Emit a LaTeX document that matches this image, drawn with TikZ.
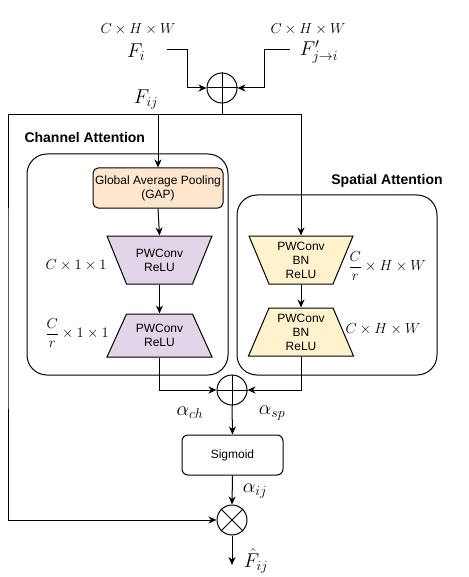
\RequirePackage{fix-cm}
\documentclass[tikz,border=0pt]{standalone}
\usepackage{amsmath}
\usepackage{fontspec}
\setmainfont{Liberation Sans}
\usetikzlibrary{calc,arrows.meta}
\definecolor{gapfill}{HTML}{FFE6CC}
\definecolor{pwfill}{HTML}{E1D5E7}
\definecolor{spfill}{HTML}{FFF2CC}
\newcommand{\mytrap}[5]{%
  \draw[#5] ($(#1)+(-#2,-#4)$) -- ($(#1)+(#2,-#4)$) -- ($(#1)+(#3,#4)$) -- ($(#1)+(-#3,#4)$) -- cycle;}
\begin{document}
\begin{tikzpicture}[x=1pt,y=-1pt,line width=1pt,
  >={Stealth[length=8pt,width=7pt,inset=2.5pt]},
  arr/.style={->},
  lbl/.style={inner sep=0pt,font=\fontsize{14.5}{16}\selectfont},
  biglbl/.style={inner sep=0pt,font=\fontsize{20}{22}\selectfont},
  boxtxt/.style={font=\fontsize{12}{14}\selectfont,align=center,inner sep=0pt},
  title/.style={inner sep=0pt,font=\fontsize{14}{16}\selectfont\bfseries},
  opnode/.style={circle,draw,minimum size=30pt,inner sep=0pt},
  group/.style={draw,rounded corners=20pt,inner sep=0pt}]
\useasboundingbox (0,0) rectangle (468,577);
\fill[white] (0,0) rectangle (468,577);

% group boxes
\node[group,minimum width=201pt,minimum height=221pt] (chbox) at (127.5,264.5) {};
\node[group,minimum width=200pt,minimum height=180pt] (spbox) at (337,285) {};
\node[title,anchor=west] (chtitle) at (24,137) {Channel Attention};
\node[title] (sptitle) at (387,181) {Spatial Attention};

% inputs
\node[lbl] (dimi) at (138,29) {$C\times H\times W$};
\node[biglbl] (fi) at (136,52) {$F_i$};
\node[lbl] (dimj) at (308,29) {$C\times H\times W$};
\node[biglbl] (fj) at (319,52) {$F'_{j\to i}$};
\coordinate (a1) at (167,50);
\coordinate (a2) at (290,50);
\node[opnode] (sum1) at (222,88) {};
\draw (sum1.north) -- (sum1.south) (sum1.west) -- (sum1.east);
\draw[arr] (a1) -- ++(20,0) |- (sum1.west);
\draw[arr] (a2) -- ++(-26,0) |- (sum1.east);
\node[biglbl] (fij) at (146,100) {$F_{ij}$};
\coordinate (j) at (222,115);
\coordinate (lc) at (8,300);

% channel branch
\node[draw,fill=gapfill,rounded corners=5pt,minimum width=130pt,minimum height=40pt,boxtxt] (gap) at (158,188) {Global Average Pooling\\(GAP)};
\coordinate (c1) at (159.5,260);
\mytrap{c1}{52.5}{33}{24}{fill=pwfill}
\node[boxtxt,minimum width=105pt,minimum height=48pt] (pw1) at (c1) {PWConv\\ReLU};
\coordinate (c2) at (159.5,335.5);
\mytrap{c2}{33}{52.5}{21.5}{fill=pwfill}
\node[boxtxt,minimum width=105pt,minimum height=43pt] (pw2) at (c2) {PWConv\\ReLU};
\node[lbl] (d1) at (76,265) {$C\times 1\times 1$};
\node[lbl] (d2) at (77,333) {$\dfrac{C}{r}\times 1\times 1$};

% spatial branch
\coordinate (s1) at (301,260);
\mytrap{s1}{52}{32}{24}{fill=spfill}
\node[boxtxt,minimum width=104pt,minimum height=48pt] (sp1) at (s1) {PWConv\\BN\\ReLU};
\coordinate (s2) at (301,332);
\mytrap{s2}{32}{52.5}{24}{fill=spfill}
\node[boxtxt,minimum width=105pt,minimum height=48pt] (sp2) at (s2) {PWConv\\BN\\ReLU};
\node[lbl] (d3) at (387,266) {$\dfrac{C}{r}\times H\times W$};
\node[lbl] (d4) at (383,329) {$C\times H\times W$};

% fusion
\node[opnode] (sum2) at (232,390) {};
\draw (sum2.north) -- (sum2.south) (sum2.west) -- (sum2.east);
\node[draw,rounded corners=6pt,minimum width=101pt,minimum height=40pt,boxtxt] (sig) at (232.5,455) {Sigmoid};
\node[opnode] (mul) at (232,520) {};
\draw (mul.45) -- (mul.225) (mul.135) -- (mul.-45);
\coordinate (out) at (232,565);
\node[biglbl] (ach) at (190,413) {$\alpha_{ch}$};
\node[biglbl] (asp) at (272,413) {$\alpha_{sp}$};
\node[biglbl] (aij) at (255,491) {$\alpha_{ij}$};
\node[biglbl] (fhat) at (256,561) {$\hat{F}_{ij}$};

% connectors
\draw (sum1.south) -- (j);
\draw[arr] (j) -| (gap.north);
\draw[arr] (j) -| (sp1.north);
\draw[arr] (j) -| (lc) |- (mul.west);
\draw[arr] (gap.south) -- (pw1.north);
\draw[arr] (pw1.south) -- (pw2.north);
\draw[arr] (sp1.south) -- (sp2.north);
\draw[arr] (pw2.south) |- (sum2.west);
\draw[arr] (sp2.south) |- (sum2.east);
\draw[arr] (sum2.south) -- (sig.north);
\draw[arr] (sig.south) -- (mul.north);
\draw[arr] (mul.south) -- (out);
\end{tikzpicture}
\end{document}
